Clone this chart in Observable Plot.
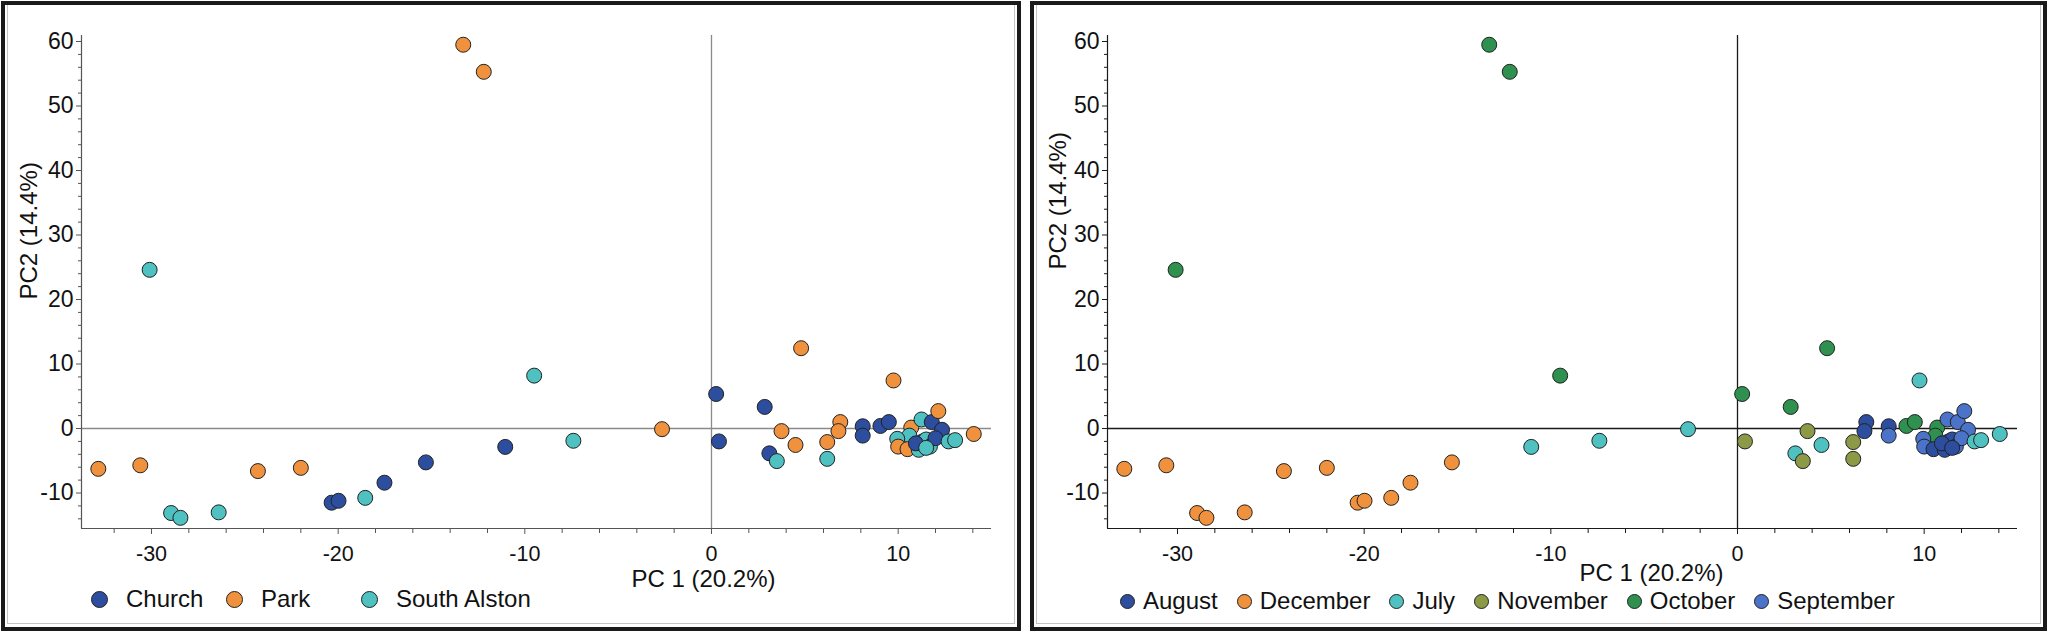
<!DOCTYPE html>
<html>
<head>
<meta charset="utf-8">
<script src="https://cdn.jsdelivr.net/npm/d3@7"></script>
<script src="https://cdn.jsdelivr.net/npm/@observablehq/plot@0.6"></script>
<style>
  html, body { margin: 0; padding: 0; background: #fff; }
  body { width: 2048px; height: 632px; position: relative; overflow: hidden;
         font-family: "Liberation Sans", Arial, "DejaVu Sans", sans-serif; color: #111; }
  .panel { position: absolute; top: 1px; height: 630px; box-sizing: border-box;
           border: 4.5px solid #1a1a1a; }
  .inner { position: absolute; left: 2px; top: 0; right: 2px; bottom: 3px;
           border: 1.5px solid #c4c4c4; border-top: none; }
  .chart { position: absolute; top: 0; }
  .legend { position: absolute; display: flex; align-items: center; height: 26px;
            font-size: 24px; white-space: nowrap; }
  .item { display: flex; align-items: center; flex-shrink: 0; }
  .sw { border-radius: 50%; box-sizing: border-box; border: 1px solid #222; flex-shrink: 0; display: inline-block; }
</style>
</head>
<body>
<div class="panel" style="left:1px;width:1020px;"><div class="inner"></div></div>
<div class="panel" style="left:1030px;width:1017px;"><div class="inner"></div></div>
<div id="c1" class="chart" style="left:0px;"></div>
<div id="c2" class="chart" style="left:1026px;"></div>
<div id="l1" class="legend" style="left:91px;top:586px;"></div>
<div id="l2" class="legend" style="left:1120px;top:588px;"></div>
<script>
// ---- data ----
const pc1 = [-32.85, -30.6, -30.1, -28.95, -28.45, -26.4, -24.3, -22.0, -20.35, -19.98,
  -18.55, -17.52, -15.3, -13.3, -12.2, -11.05, -9.5, -7.4, -2.65, 0.25,
  0.4, 2.85, 3.1, 3.5, 3.75, 4.5, 4.8, 6.2, 6.2, 6.9,
  6.8, 8.1, 8.1, 9.05, 9.5, 9.75, 10.7, 10.6, 9.95, 10.0,
  10.5, 11.1, 11.3, 11.5, 11.7, 11.25, 11.8, 12.15, 12.35, 12.0,
  10.95, 11.5, 12.7, 13.05, 14.05];
const pc2 = [-6.25, -5.7, 24.6, -13.1, -13.85, -13.0, -6.6, -6.1, -11.5, -11.2,
  -10.75, -8.4, -5.25, 59.5, 55.3, -2.85, 8.2, -1.9, -0.1, 5.35,
  -2.0, 3.35, -3.85, -5.05, -0.4, -2.55, 12.45, -2.1, -4.7, 1.0,
  -0.4, 0.35, -1.1, 0.4, 1.0, 7.45, 0.15, -1.1, -1.6, -2.8,
  -3.2, -3.3, -2.0, -1.7, -2.8, 1.4, 1.0, 2.7, -0.2, -1.5,
  -2.3, -3.0, -2.0, -1.8, -0.85];
const site = ["Park","Park","South Alston","South Alston","South Alston","South Alston","Park","Park","Church","Church",
  "South Alston","Church","Church","Park","Park","Church","South Alston","South Alston","Park","Church",
  "Church","Church","Church","South Alston","Park","Park","Park","Park","South Alston","Park",
  "Park","Church","Church","Church","Church","Park","Park","South Alston","South Alston","Park",
  "Park","South Alston","Church","South Alston","South Alston","South Alston","Church","Park","Church","Church",
  "Church","South Alston","South Alston","South Alston","Park"];
const month = ["December","December","October","December","December","December","December","December","December","December",
  "December","December","December","October","October","July","October","July","July","October",
  "November","October","July","November","November","July","October","November","November","August",
  "August","August","September","October","October","July","October","October","September","September",
  "August","August","August","August","September","September","September","September","September","September",
  "August","August","July","July","July"];

const sites = ["Church", "Park", "South Alston"];
const siteColors = ["#2d4e9e", "#f0923d", "#4ec1c0"];
const months = ["August", "December", "July", "November", "October", "September"];
const monthColors = ["#2d4e9e", "#f0923d", "#4ec1c0", "#8c9a48", "#2e9150", "#4b73c9"];

const xDomain = [-33.75, 15];
const yDomain = [-15.5, 60.93];
const xMajor = [-30, -20, -10, 0, 10];
const xMinor = [-32, -28, -26, -24, -22, -18, -16, -14, -12, -8, -6, -4, -2, 2, 4, 6, 8, 12, 14];
const yMajor = [-10, 0, 10, 20, 30, 40, 50, 60];
const yMinor = [-14, -12, -8, -6, -4, -2, 2, 4, 6, 8, 12, 14, 16, 18, 22, 24, 26, 28, 32, 34, 36, 38,
  42, 44, 46, 48, 52, 54, 56, 58];
const xLabel = "PC 1 (20.2%)";
const yLabel = "PC2 (14.4%)";

const points = pc1.map((x, i) => ({x, y: pc2[i], site: site[i], month: month[i]}));

function panel(key, domain, range, o) {
  return Plot.plot({
    width: 1010, height: 600,
    marginLeft: 81, marginTop: 35, marginRight: 19, marginBottom: 72,
    x: {domain: xDomain, label: null},
    y: {domain: yDomain, label: null},
    color: {domain, range},
    style: {fontFamily: '"Liberation Sans", Arial, sans-serif', background: "transparent", overflow: "visible", color: "#111"},
    marks: [
      Plot.ruleY([0], {stroke: o.ref, strokeWidth: 1.3}),
      Plot.ruleX([0], {stroke: o.ref, strokeWidth: 1.3}),
      Plot.axisX({ticks: xMinor, tickSize: 5, text: null, label: null, stroke: o.axis}),
      Plot.axisX({ticks: xMajor, tickSize: 6, tickPadding: 11, tickFormat: d => `${d}`,
        fontSize: 21.5, label: null, stroke: o.axis, fill: "#111"}),
      Plot.axisY({ticks: yMinor, tickSize: 3, text: null, label: null, stroke: o.axis}),
      Plot.axisY({ticks: yMajor, tickSize: 5, tickPadding: 3, tickFormat: d => `${d}`,
        fontSize: 23, label: null, stroke: o.axis, fill: "#111"}),
      Plot.ruleX([xDomain[0]], {stroke: o.axis, strokeWidth: 1.2}),
      Plot.ruleY([yDomain[0]], {stroke: o.axis, strokeWidth: 1.2}),
      Plot.dot(points, {x: "x", y: "y", fill: key, r: 7.5, stroke: "#222", strokeWidth: 1}),
      Plot.text([xLabel], {text: d => d, frameAnchor: "bottom", dx: o.xdx, dy: o.xdy, fontSize: 24, fill: "#111"}),
      Plot.text([yLabel], {text: d => d, frameAnchor: "left", rotate: -90, dx: o.ydx, dy: o.ydy, fontSize: 24, fill: "#111"})
    ]
  });
}

document.getElementById("c1").appendChild(
  panel("site", sites, siteColors, {ref: "#8a8a8a", axis: "#555", xdx: 167, xdy: 58, ydx: -52, ydy: 17.5}));
document.getElementById("c2").appendChild(
  panel("month", months, monthColors, {ref: "#1a1a1a", axis: "#1a1a1a", xdx: 89, xdy: 52, ydx: -49, ydy: -12.5}));

function legend(el, names, colors, size, gapText, itemWidth, gapItem) {
  names.forEach((n, i) => {
    const it = document.createElement("div");
    it.className = "item";
    if (itemWidth) it.style.width = itemWidth + "px";
    else if (i < names.length - 1) it.style.marginRight = gapItem + "px";
    const sw = document.createElement("span");
    sw.className = "sw";
    sw.style.width = size + "px"; sw.style.height = size + "px";
    sw.style.minWidth = size + "px";
    sw.style.background = colors[i];
    sw.style.marginRight = gapText + "px";
    const t = document.createElement("span");
    t.textContent = n;
    it.appendChild(sw); it.appendChild(t);
    el.appendChild(it);
  });
}
legend(document.getElementById("l1"), sites, siteColors, 17, 18, 135, 0);
legend(document.getElementById("l2"), months, monthColors, 15, 8, 0, 19);
</script>
</body>
</html>
